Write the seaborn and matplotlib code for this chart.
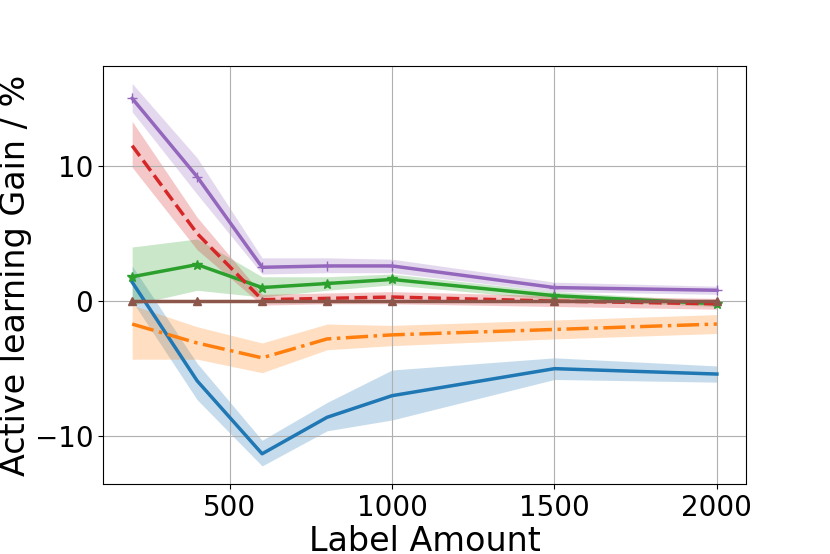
import matplotlib
matplotlib.use("Agg")
import matplotlib.pyplot as plt
import seaborn as sns
import numpy as np
import pandas as pd

label_amount = [200, 400, 600, 800, 1000, 1500, 2000]

blue_mean = [1.4, -5.9, -11.3, -8.6, -7.0, -5.0, -5.4]
blue_low = [0.0, -7.3, -12.2, -9.6, -8.8, -5.8, -6.0]
blue_high = [2.6, -4.6, -10.3, -7.5, -5.1, -4.2, -4.8]

orange_mean = [-1.7, -3.1, -4.2, -2.8, -2.5, -2.1, -1.7]
orange_low = [-4.3, -4.3, -5.3, -3.6, -3.3, -2.8, -2.4]
orange_high = [-0.3, -1.9, -3.1, -1.7, -1.8, -1.4, -1.0]

green_mean = [1.8, 2.7, 1.0, 1.3, 1.6, 0.4, -0.2]
green_low = [-0.3, 0.8, 0.3, 0.8, 1.2, 0.1, -0.4]
green_high = [4.0, 4.6, 1.8, 1.8, 2.0, 0.7, 0.0]

red_mean = [11.5, 5.0, 0.1, 0.2, 0.3, 0.0, -0.2]
red_low = [9.9, 3.8, -0.3, -0.2, -0.2, -0.4, -0.6]
red_high = [13.3, 6.2, 0.5, 0.6, 0.7, 0.4, 0.2]

purple_mean = [15.0, 9.2, 2.5, 2.6, 2.6, 1.0, 0.8]
purple_low = [14.0, 7.9, 2.0, 2.1, 2.1, 0.7, 0.5]
purple_high = [16.1, 10.6, 3.2, 3.2, 3.1, 1.4, 1.1]

brown_mean = [0.0, 0.0, 0.0, 0.0, 0.0, 0.0, 0.0]

x_ticks = [500, 1000, 1500, 2000]
y_ticks = [-10, 0, 10]

fig = plt.figure(figsize=(8.3, 5.54), dpi=100)
ax = fig.add_axes([0.124, 0.126, 0.775, 0.755])

pal = sns.color_palette("tab10")
series = [
    (blue_mean, blue_low, blue_high, pal[0], "-", None, 0),
    (orange_mean, orange_low, orange_high, pal[1], "-.", None, 0),
    (green_mean, green_low, green_high, pal[2], "-", "*", 7),
    (red_mean, red_low, red_high, pal[3], "--", None, 0),
    (purple_mean, purple_low, purple_high, pal[4], "-", "+", 7),
    (brown_mean, None, None, pal[5], "-", "^", 6),
]

for mean, low, high, col, ls, mk, ms in series:
    df = pd.DataFrame({"x": label_amount, "y": mean})
    sns.lineplot(data=df, x="x", y="y", ax=ax, color=col, linestyle=ls,
                 marker=mk, markersize=ms, linewidth=2.5, markeredgecolor=col,
                 markeredgewidth=1.0, errorbar=None)
    if low is not None:
        ax.fill_between(label_amount, low, high, color=col, alpha=0.25, linewidth=0)

ax.set_xlim(110, 2090)
ax.set_ylim(-13.55, 17.4)
ax.set_xticks(x_ticks)
ax.set_yticks(y_ticks)
ax.grid(True, color="#b0b0b0", linewidth=0.8)
ax.tick_params(labelsize=20)
ax.set_xlabel("Label Amount", fontsize=24, labelpad=2)
ax.set_ylabel("Active learning Gain / %", fontsize=24, labelpad=2)
for s in ax.spines.values():
    s.set_color("black")
    s.set_linewidth(0.8)

fig.savefig("out.png", dpi=100)
